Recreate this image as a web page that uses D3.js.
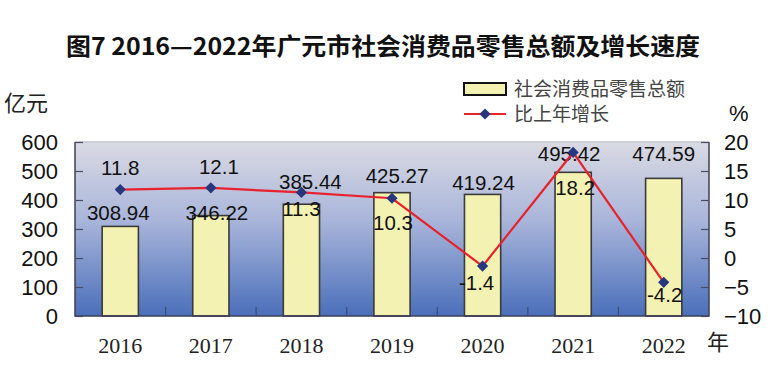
<!DOCTYPE html>
<html>
<head>
<meta charset="utf-8">
<script src="https://cdn.jsdelivr.net/npm/d3@7"></script>
<style>
  body { margin: 0; background: #fff; }
</style>
</head>
<body>
<script>
// datos del grafico
var years = ["2016", "2017", "2018", "2019", "2020", "2021", "2022"];
var ventas = [308.94, 346.22, 385.44, 425.27, 419.24, 495.42, 474.59]; // 亿元
var crecimiento = [11.8, 12.1, 11.3, 10.3, -1.4, 18.2, -4.2];          // %
var ticksIzq = [0, 100, 200, 300, 400, 500, 600];
var ticksDer = [-10, -5, 0, 5, 10, 15, 20];

// desplazamientos de las etiquetas (colocadas a mano en el original)
var barLabelDx = [-2, 6, 9, 5, 1, -4, 0];
var barLabelDy = [-14, -3, -23, -17, -12, -19, -25];
var lineLabelDx = [0, 8, 0, 1, -6, 2, 1];
var lineLabelDy = [-22, -21, 16, 24, 16, 35, 12];

var w = 771;
var h = 380;
// limites del area de dibujo (ojo: "top" es reservado en window)
var pLeft = 75, pRight = 709, pTop = 142, pBottom = 316;

var svg = d3.select("body")
            .append("svg")
            .attr("width", w)
            .attr("height", h);

var defs = svg.append("defs");
var grad = defs.append("linearGradient")
    .attr("id", "fondo")
    .attr("x1", 0).attr("y1", 0).attr("x2", 0).attr("y2", 1);
grad.append("stop").attr("offset", "0%").attr("stop-color", "#d9dae2");
grad.append("stop").attr("offset", "45%").attr("stop-color", "#a9b5da");
grad.append("stop").attr("offset", "100%").attr("stop-color", "#4a6fba");

// escalas
var xScale = d3.scaleBand()
    .domain(years)
    .range([pLeft, pRight])
    .paddingInner(0.6)
    .paddingOuter(0.3);

var yScale = d3.scaleLinear()
    .domain([0, 600])
    .range([pBottom, pTop]);

var y2Scale = d3.scaleLinear()
    .domain([-10, 20])
    .range([pBottom, pTop]);

var cx = function(d, i) { return xScale(years[i]) + xScale.bandwidth() / 2; };

// titulo
svg.append("text")
    .attr("x", 383)
    .attr("y", 55)
    .attr("text-anchor", "middle")
    .attr("textLength", 634)
    .attr("lengthAdjust", "spacingAndGlyphs")
    .attr("font-family", "Noto Sans CJK SC")
    .attr("font-weight", "bold")
    .attr("font-size", "24px")
    .attr("fill", "#111")
    .text("图7 2016—2022年广元市社会消费品零售总额及增长速度");

// fondo del area
svg.append("rect")
    .attr("x", pLeft)
    .attr("y", pTop)
    .attr("width", pRight - pLeft)
    .attr("height", pBottom - pTop)
    .attr("fill", "url(#fondo)");

// ticks entre categorias
var limites = years.slice(1).map(function(d) { return xScale(d) - xScale.step() * 0.3; });
svg.selectAll(".sep")
    .data(limites)
    .enter()
    .append("line")
    .attr("x1", function(d) { return d; })
    .attr("x2", function(d) { return d; })
    .attr("y1", pBottom)
    .attr("y2", pBottom - 9)
    .attr("stroke", "#3c4a78")
    .attr("stroke-width", 1.2);

// barras
svg.selectAll(".bar")
    .data(ventas)
    .enter()
    .append("rect")
    .attr("x", function(d, i) { return xScale(years[i]); })
    .attr("y", function(d) { return yScale(d); })
    .attr("width", xScale.bandwidth())
    .attr("height", function(d) { return pBottom - yScale(d); })
    .attr("fill", "#f3f2b2")
    .attr("stroke", "#3a3a3a")
    .attr("stroke-width", 1.6);

// borde
svg.append("line")
    .attr("x1", pLeft).attr("x2", pRight).attr("y1", pTop).attr("y2", pTop)
    .attr("stroke", "#c4c6cf").attr("stroke-width", 1.5);
svg.append("path")
    .attr("d", "M" + pLeft + "," + pTop + "V" + pBottom + "H" + pRight + "V" + pTop)
    .attr("fill", "none")
    .attr("stroke", "#3e3f58")
    .attr("stroke-width", 1.5);

// ejes
var yAxis = d3.axisLeft(yScale)
    .tickValues(ticksIzq)
    .tickSizeInner(-8)
    .tickSizeOuter(0)
    .tickPadding(17);

var y2Axis = d3.axisRight(y2Scale)
    .tickValues(ticksDer)
    .tickSizeInner(-8)
    .tickSizeOuter(0)
    .tickPadding(15);

var gy = svg.append("g")
    .attr("transform", "translate(" + pLeft + ",0)")
    .call(yAxis);
var gy2 = svg.append("g")
    .attr("transform", "translate(" + pRight + ",0)")
    .call(y2Axis);

[gy, gy2].forEach(function(g) {
    g.select(".domain").remove();
    g.selectAll("line").attr("stroke", "#4a4c66").attr("stroke-width", 1.2);
    g.selectAll("text")
        .attr("font-family", "Liberation Sans, Arial, sans-serif")
        .attr("font-size", "22px")
        .attr("fill", "#111");
});

// etiquetas de años
svg.selectAll(".year")
    .data(years)
    .enter()
    .append("text")
    .attr("x", function(d) { return xScale(d) + xScale.bandwidth() / 2; })
    .attr("y", 353)
    .attr("text-anchor", "middle")
    .attr("font-family", "Liberation Serif, Times New Roman, serif")
    .attr("font-size", "22px")
    .attr("fill", "#222")
    .text(function(d) { return d; });

// unidades
svg.append("text")
    .attr("x", 4).attr("y", 111)
    .attr("font-family", "Noto Sans CJK SC")
    .attr("font-size", "22px")
    .attr("fill", "#222")
    .text("亿元");
svg.append("text")
    .attr("x", 729).attr("y", 121)
    .attr("font-family", "Liberation Sans, Arial, sans-serif")
    .attr("font-size", "22px")
    .attr("fill", "#111")
    .text("%");
svg.append("text")
    .attr("x", 707).attr("y", 350)
    .attr("font-family", "Noto Sans CJK SC")
    .attr("font-size", "22px")
    .attr("fill", "#222")
    .text("年");

// etiquetas de barras
svg.selectAll(".barlabel")
    .data(ventas)
    .enter()
    .append("text")
    .attr("x", function(d, i) { return cx(d, i) + barLabelDx[i]; })
    .attr("y", function(d, i) { return yScale(d) + barLabelDy[i]; })
    .attr("dy", "0.36em")
    .attr("text-anchor", "middle")
    .attr("font-family", "Liberation Sans, Arial, sans-serif")
    .attr("font-size", "20.5px")
    .attr("fill", "#111")
    .text(function(d) { return d3.format(".2f")(d); });

// linea de crecimiento
var linea = d3.line()
    .x(function(d, i) { return cx(d, i); })
    .y(function(d) { return y2Scale(d); });

svg.append("path")
    .datum(crecimiento)
    .attr("d", linea)
    .attr("fill", "none")
    .attr("stroke", "#e8222c")
    .attr("stroke-width", 2.2);

var diamante = d3.symbol().type(d3.symbolDiamond2).size(80);

svg.selectAll(".punto")
    .data(crecimiento)
    .enter()
    .append("path")
    .attr("d", diamante)
    .attr("transform", function(d, i) {
        return "translate(" + cx(d, i) + "," + y2Scale(d) + ")";
    })
    .attr("fill", "#26377f");

svg.selectAll(".linelabel")
    .data(crecimiento)
    .enter()
    .append("text")
    .attr("x", function(d, i) { return cx(d, i) + lineLabelDx[i]; })
    .attr("y", function(d, i) { return y2Scale(d) + lineLabelDy[i]; })
    .attr("dy", "0.36em")
    .attr("text-anchor", "middle")
    .attr("font-family", "Liberation Sans, Arial, sans-serif")
    .attr("font-size", "20.5px")
    .attr("fill", "#111")
    .text(function(d) { return d; });

// leyenda
var ley = svg.append("g");
ley.append("rect")
    .attr("x", 464).attr("y", 83)
    .attr("width", 42).attr("height", 12)
    .attr("fill", "#f3f2b2")
    .attr("stroke", "#111")
    .attr("stroke-width", 2);
ley.append("line")
    .attr("x1", 464).attr("x2", 506)
    .attr("y1", 114).attr("y2", 114)
    .attr("stroke", "#e8222c")
    .attr("stroke-width", 2.2);
ley.append("path")
    .attr("d", diamante)
    .attr("transform", "translate(485,114)")
    .attr("fill", "#26377f");
ley.selectAll("text")
    .data(["社会消费品零售总额", "比上年增长"])
    .enter()
    .append("text")
    .attr("x", 514)
    .attr("y", function(d, i) { return 89 + i * 25; })
    .attr("dy", "0.36em")
    .attr("font-family", "Noto Sans CJK SC")
    .attr("font-size", "19px")
    .attr("fill", "#444")
    .text(function(d) { return d; });
</script>
</body>
</html>
